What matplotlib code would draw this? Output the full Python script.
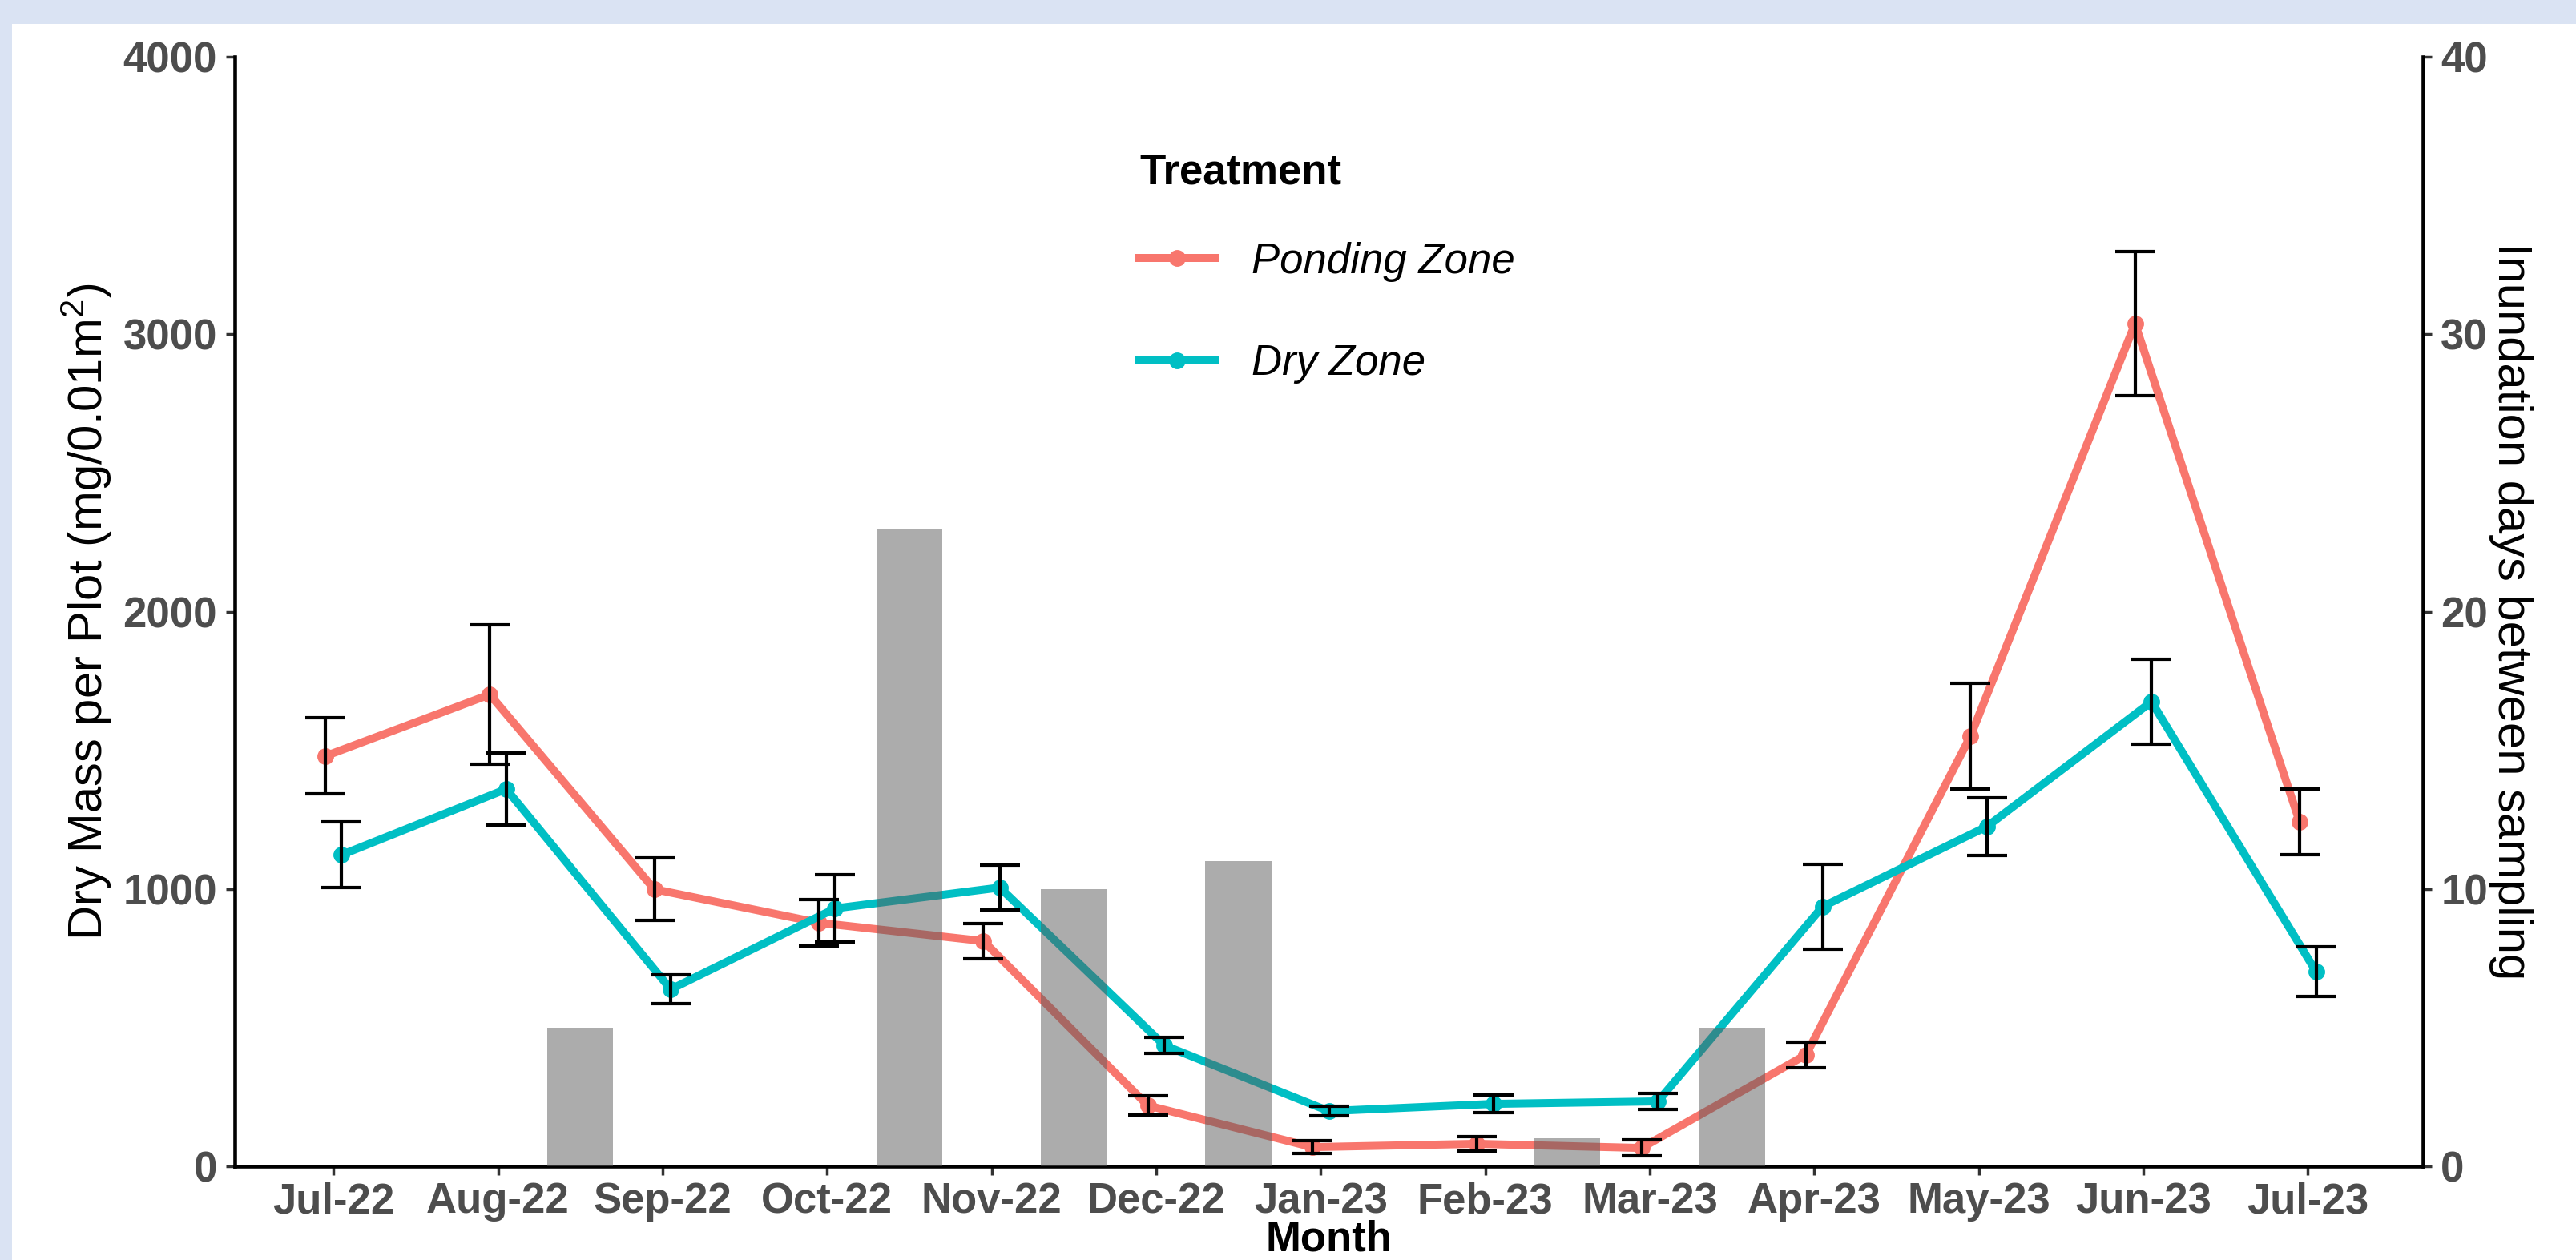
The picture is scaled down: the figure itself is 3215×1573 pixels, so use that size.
import matplotlib
matplotlib.use("Agg")
import matplotlib.pyplot as plt
from matplotlib.lines import Line2D
from matplotlib.patches import Rectangle
import numpy as np

plt.rcParams['font.family'] = ['Liberation Sans', 'DejaVu Sans']
plt.rcParams['mathtext.fontset'] = 'custom'
plt.rcParams['mathtext.rm'] = 'Liberation Sans'
plt.rcParams['mathtext.it'] = 'Liberation Sans:italic'
plt.rcParams['mathtext.bf'] = 'Liberation Sans:bold'

months = ["Jul-22", "Aug-22", "Sep-22", "Oct-22", "Nov-22", "Dec-22", "Jan-23",
          "Feb-23", "Mar-23", "Apr-23", "May-23", "Jun-23", "Jul-23"]

# Dry mass per plot (mg/0.01 m^2): mean and standard error per sampling month
ponding_mean = [1479, 1701, 999, 878, 812, 219, 69, 81, 66, 402, 1551, 3038, 1242]
ponding_se = [137, 251, 112, 85, 63, 35, 23, 25, 28, 46, 190, 260, 119]
dry_mean = [1123, 1360, 638, 930, 1005, 436, 199, 225, 234, 936, 1225, 1675, 702]
dry_se = [119, 131, 52, 120, 80, 30, 18, 32, 30, 153, 104, 152, 90]

# Inundation days in each interval between consecutive samplings
inundation_days = [0, 5, 0, 23, 10, 11, 0, 1, 5, 0, 0, 0]

series_names = ["Ponding Zone", "Dry Zone"]
series_colors = ["#F8766D", "#00BFC4"]

W, H = 3216, 1573
fig = plt.figure(figsize=(W / 100, H / 100), dpi=100, facecolor="#DAE3F3")
fig.patches.append(Rectangle((15 / W, 0), 1, (H - 30) / H, transform=fig.transFigure,
                             facecolor="white", edgecolor="none", zorder=-10))

left, right, top, bottom = 293, 3024, 71, 1456
ax = fig.add_axes([left / W, (H - bottom) / H, (right - left) / W, (bottom - top) / H])
ax.set_facecolor("none")

x = np.arange(len(months))
dodge = 0.05
for offs, mean, se, col in [(-dodge, ponding_mean, ponding_se, series_colors[0]),
                            (dodge, dry_mean, dry_se, series_colors[1])]:
    ax.plot(x + offs, mean, color=col, lw=7.2, marker="o", ms=14,
            solid_capstyle="butt", zorder=2)
    ax.errorbar(x + offs, mean, yerr=se, fmt="none", ecolor="black",
                elinewidth=3, capsize=18, capthick=3, zorder=3)

ax.set_xlim(-0.6, 12.7)
ax.set_ylim(0, 4000)
ax.set_xticks(x)
ax.set_xticklabels(months)
ax.set_yticks([0, 1000, 2000, 3000, 4000])

ax2 = ax.twinx()
ax2.bar(x[:-1] + 0.5, inundation_days, width=0.4, color="#5A5A5A", alpha=0.5,
        linewidth=0, zorder=1)
ax2.set_ylim(0, 40)
ax2.set_yticks([0, 10, 20, 30, 40])

for a in (ax, ax2):
    a.spines["top"].set_visible(False)
    for s in a.spines.values():
        s.set_linewidth(3.3)
        s.set_color("black")
    a.tick_params(axis="both", labelsize=38, labelcolor="#4D4D4D", width=2.5,
                  length=8, color="#333333", pad=8)
ax.tick_params(axis="x", pad=6)
ax.spines["right"].set_visible(False)
ax2.spines["left"].set_visible(False)
ax2.spines["bottom"].set_visible(False)

for lab in ax.get_xticklabels() + ax.get_yticklabels() + ax2.get_yticklabels():
    lab.set_fontweight("bold")

title_size = 43
ax.set_xlabel("Month", fontsize=38, fontweight="bold", color="black")
ax.xaxis.set_label_coords(0.5, (bottom - 1561) / (bottom - top))
ax.xaxis.label.set_va("baseline")

ax.set_ylabel("Dry Mass per Plot (mg/0.01m$^2$)", fontsize=title_size, color="black")
ax.yaxis.set_label_coords((108 - left) / (right - left), 0.5)
ax.yaxis.label.set_va("center")

ax2.set_ylabel("Inundation days between sampling", fontsize=title_size, color="black",
               rotation=-90)
ax2.yaxis.set_label_coords((3134 - left) / (right - left), 0.5)
ax2.yaxis.label.set_va("center")

handles = [Line2D([], [], color=c, lw=7.2, marker="o", ms=14) for c in series_colors]
leg = ax.legend(handles, series_names, title="Treatment", loc="upper left",
                bbox_to_anchor=(0.396, 0.948), frameon=False,
                prop={"style": "italic", "size": 38},
                title_fontproperties={"weight": "bold", "size": 38},
                handlelength=1.8, handletextpad=0.85, labelspacing=1.47)
leg._legend_box.align = "left"
leg._legend_box.sep = 1.16 * 38

fig.savefig("out.png", dpi=100, facecolor=fig.get_facecolor())
